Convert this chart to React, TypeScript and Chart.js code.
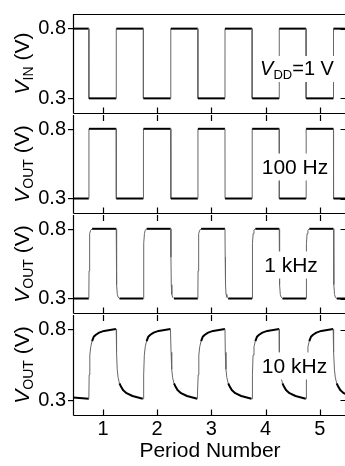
import React, { useEffect, useRef } from "react";
import { Chart, registerables } from "chart.js";

Chart.register(...registerables);

const FONT = "'Liberation Sans', Arial, Helvetica, sans-serif";

// ---- axes ----
const X_MIN = 0.448;
const X_MAX = 5.5;
const PERIOD_TICKS = [1, 2, 3, 4, 5];
const V_TICKS = [0.3, 0.8];
const V_MIN = 0.195;
const V_MAX = 0.905;
const X_TITLE = "Period Number";

// ---- edge times (period units) ----
// input steps down (output steps up)
const IN_FALL_TIMES = [0.74, 1.745, 2.75, 3.75, 4.745];
// input steps up (output steps down)
const IN_RISE_TIMES = [1.245, 2.25, 3.25, 4.25, 5.25];

// ---- V_IN ----
const VIN_START = 0.8;
const VIN_UP_DT = [0, 0.001];
const VIN_UP_V = [0.3, 0.8];
const VIN_DOWN_DT = [0, 0.001];
const VIN_DOWN_V = [0.8, 0.3];

// ---- V_OUT 100 Hz ----
const V100_START = 0.3;
const V100_UP_DT = [0, 0.002];
const V100_UP_V = [0.3, 0.805];
const V100_DOWN_DT = [0, 0.002];
const V100_DOWN_V = [0.805, 0.3];

// ---- V_OUT 1 kHz ----
const V1K_START = 0.3;
const V1K_UP_DT = [0, 0.004, 0.01, 0.02, 0.035, 0.06];
const V1K_UP_V = [0.3, 0.5, 0.7, 0.77, 0.795, 0.805];
const V1K_DOWN_DT = [0, 0.004, 0.01, 0.02, 0.035, 0.06];
const V1K_DOWN_V = [0.805, 0.6, 0.4, 0.33, 0.31, 0.3];

// ---- V_OUT 10 kHz ----
const V10K_START = 0.32;
const V10K_UP_DT = [0, 0.006, 0.018, 0.035, 0.06, 0.09, 0.13, 0.19, 0.28, 0.5];
const V10K_UP_V = [0.31, 0.48, 0.62, 0.68, 0.72, 0.75, 0.765, 0.78, 0.792, 0.805];
const V10K_DOWN_DT = [0, 0.006, 0.018, 0.035, 0.06, 0.09, 0.13, 0.19, 0.3, 0.49];
const V10K_DOWN_V = [0.805, 0.64, 0.52, 0.46, 0.42, 0.395, 0.37, 0.35, 0.33, 0.31];

// ---- labels ----
const Y_LABEL_MAIN = "V";
const Y_LABEL_IN = "IN";
const Y_LABEL_OUT = "OUT";
const Y_LABEL_UNIT = " (V)";
const NOTE_VDD = ["V", "DD", "=1 V"];
const NOTE_100 = "100 Hz";
const NOTE_1K = "1 kHz";
const NOTE_10K = "10 kHz";

type Pt = { x: number; y: number };
type Part = { t: string; size: number; italic?: boolean; dy?: number };

function buildTrace(
  start: number,
  upTimes: number[], upDt: number[], upV: number[],
  downTimes: number[], downDt: number[], downV: number[]
): Pt[] {
  const edges = [
    ...upTimes.map((t) => ({ t, dt: upDt, v: upV })),
    ...downTimes.map((t) => ({ t, dt: downDt, v: downV })),
  ].sort((a, b) => a.t - b.t);
  const pts: Pt[] = [{ x: X_MIN, y: start }];
  for (const e of edges) {
    for (let i = 0; i < e.dt.length; i++) pts.push({ x: e.t + e.dt[i], y: e.v[i] });
  }
  const last = pts[pts.length - 1];
  if (last.x < X_MAX) pts.push({ x: X_MAX, y: last.y });
  return pts;
}

const VIN_DATA = buildTrace(VIN_START, IN_RISE_TIMES, VIN_UP_DT, VIN_UP_V, IN_FALL_TIMES, VIN_DOWN_DT, VIN_DOWN_V);
const V100_DATA = buildTrace(V100_START, IN_FALL_TIMES, V100_UP_DT, V100_UP_V, IN_RISE_TIMES, V100_DOWN_DT, V100_DOWN_V);
const V1K_DATA = buildTrace(V1K_START, IN_FALL_TIMES, V1K_UP_DT, V1K_UP_V, IN_RISE_TIMES, V1K_DOWN_DT, V1K_DOWN_V);
const V10K_DATA = buildTrace(V10K_START, IN_FALL_TIMES, V10K_UP_DT, V10K_UP_V, IN_RISE_TIMES, V10K_DOWN_DT, V10K_DOWN_V);

type PanelCfg = {
  top: number; // page y of chart-area top
  height: number;
  data: Pt[];
  ylabel: Part[];
  note: Part[];
  noteCx: number; // page x
  noteCy: number; // offset from panel top
  drawTop: boolean;
  topTicks: boolean;
  bottom: boolean;
};

const PANELS: PanelCfg[] = [
  {
    top: 13, height: 101, data: VIN_DATA,
    ylabel: [{ t: Y_LABEL_MAIN, size: 21, italic: true }, { t: Y_LABEL_IN, size: 14, dy: 4 }, { t: Y_LABEL_UNIT, size: 21 }],
    note: [{ t: NOTE_VDD[0], size: 20, italic: true }, { t: NOTE_VDD[1], size: 13, dy: 4 }, { t: NOTE_VDD[2], size: 20 }],
    noteCx: 297, noteCy: 54, drawTop: true, topTicks: false, bottom: false,
  },
  {
    top: 114, height: 100, data: V100_DATA,
    ylabel: [{ t: Y_LABEL_MAIN, size: 21, italic: true }, { t: Y_LABEL_OUT, size: 14, dy: 4 }, { t: Y_LABEL_UNIT, size: 21 }],
    note: [{ t: NOTE_100, size: 21 }],
    noteCx: 295, noteCy: 51, drawTop: false, topTicks: true, bottom: false,
  },
  {
    top: 214, height: 100, data: V1K_DATA,
    ylabel: [{ t: Y_LABEL_MAIN, size: 21, italic: true }, { t: Y_LABEL_OUT, size: 14, dy: 4 }, { t: Y_LABEL_UNIT, size: 21 }],
    note: [{ t: NOTE_1K, size: 21 }],
    noteCx: 291, noteCy: 49, drawTop: false, topTicks: true, bottom: false,
  },
  {
    top: 314, height: 101, data: V10K_DATA,
    ylabel: [{ t: Y_LABEL_MAIN, size: 21, italic: true }, { t: Y_LABEL_OUT, size: 14, dy: 4 }, { t: Y_LABEL_UNIT, size: 21 }],
    note: [{ t: NOTE_10K, size: 21 }],
    noteCx: 294.5, noteCy: 50, drawTop: false, topTicks: true, bottom: true,
  },
];

const CANVAS_W = 350;
const PAD = 13;
const X_AXIS_H = 51;
const PAGE_H = 466;

function fontOf(p: Part) {
  return `${p.italic ? "italic " : ""}${p.size}px ${FONT}`;
}

function measureParts(ctx: CanvasRenderingContext2D, parts: Part[]) {
  let w = 0;
  const ws: number[] = [];
  for (const p of parts) {
    ctx.font = fontOf(p);
    const m = ctx.measureText(p.t).width;
    ws.push(m);
    w += m;
  }
  return { w, ws };
}

function drawParts(ctx: CanvasRenderingContext2D, parts: Part[], x0: number, baseline: number) {
  const { ws } = measureParts(ctx, parts);
  let x = x0;
  parts.forEach((p, i) => {
    ctx.font = fontOf(p);
    ctx.fillText(p.t, x, baseline + (p.dy || 0));
    x += ws[i];
  });
}

function Panel({ cfg }: { cfg: PanelCfg }) {
  const ref = useRef<HTMLCanvasElement | null>(null);
  const canvasTop = cfg.top - PAD;
  const canvasH = cfg.bottom ? PAGE_H - canvasTop : PAD + cfg.height + PAD;

  useEffect(() => {
    const canvas = ref.current;
    if (!canvas) return;

    const panelPlugin = {
      id: "panelDeco",
      afterDatasetsDraw(chart: any) {
        const { ctx, chartArea: a } = chart;
        ctx.save();
        const { w } = measureParts(ctx, cfg.note);
        const maxSize = Math.max(...cfg.note.map((p) => p.size));
        const cy = a.top + cfg.noteCy;
        const x0 = cfg.noteCx - w / 2;
        ctx.fillStyle = "#fff";
        ctx.fillRect(x0 - 3, cy - maxSize * 0.5 - 2, w + 6, maxSize + 6);
        ctx.fillStyle = "#000";
        ctx.textBaseline = "alphabetic";
        ctx.textAlign = "left";
        drawParts(ctx, cfg.note, x0, cy + maxSize * 0.358);
        ctx.restore();
      },
      afterDraw(chart: any) {
        const { ctx, chartArea: a } = chart;
        const xs = chart.scales.x;
        const ys = chart.scales.y;
        ctx.save();
        ctx.strokeStyle = "#000";
        ctx.lineWidth = 1.2;
        const L = Math.round(a.left) + 0.5;
        const R = Math.round(a.right) - 0.5;
        const T = Math.round(a.top) + 0.5;
        const B = Math.round(a.bottom) + 0.5;
        ctx.beginPath();
        if (cfg.drawTop) {
          ctx.moveTo(L, T);
          ctx.lineTo(R, T);
        }
        ctx.moveTo(L, B);
        ctx.lineTo(R, B);
        ctx.moveTo(L, a.top);
        ctx.lineTo(L, B);
        ctx.moveTo(R, a.top);
        ctx.lineTo(R, B);
        for (const v of PERIOD_TICKS) {
          const px = Math.round(xs.getPixelForValue(v)) + 0.5;
          ctx.moveTo(px, B);
          ctx.lineTo(px, B - 6);
          if (cfg.topTicks) {
            ctx.moveTo(px, a.top);
            ctx.lineTo(px, a.top + 6);
          }
        }
        for (const v of V_TICKS) {
          const py = Math.round(ys.getPixelForValue(v)) + 0.5;
          ctx.moveTo(R, py);
          ctx.lineTo(R - 6, py);
        }
        ctx.stroke();

        const { w } = measureParts(ctx, cfg.ylabel);
        ctx.translate(28.5, (a.top + a.bottom) / 2);
        ctx.rotate(-Math.PI / 2);
        ctx.fillStyle = "#000";
        ctx.textBaseline = "alphabetic";
        ctx.textAlign = "left";
        drawParts(ctx, cfg.ylabel, -w / 2, 0);
        ctx.restore();
      },
    };

    const steep = (c: any) => Math.abs(c.p1.x - c.p0.x) < 1.5;

    const chart = new Chart(canvas, {
      type: "line",
      data: {
        datasets: [
          {
            data: cfg.data as any,
            borderColor: "#000",
            borderWidth: 2,
            pointRadius: 0,
            tension: 0,
            fill: false,
            borderJoinStyle: "round",
            segment: {
              borderColor: (c: any) => (steep(c) ? "#666" : "#000"),
              borderWidth: (c: any) => (steep(c) ? 1 : 2),
            },
          } as any,
        ],
      },
      options: {
        responsive: false,
        maintainAspectRatio: false,
        animation: false,
        devicePixelRatio: 1,
        events: [],
        layout: { padding: { left: 0, right: 3, top: PAD, bottom: cfg.bottom ? 0 : PAD } },
        plugins: { legend: { display: false }, tooltip: { enabled: false } },
        scales: {
          x: {
            type: "linear",
            min: X_MIN,
            max: X_MAX,
            display: cfg.bottom,
            afterBuildTicks: (s: any) => {
              s.ticks = PERIOD_TICKS.map((v) => ({ value: v }));
            },
            afterFit: (s: any) => {
              s.height = cfg.bottom ? X_AXIS_H : 0;
            },
            grid: { display: false, drawTicks: false },
            border: { display: false },
            ticks: {
              color: "#000",
              font: { family: FONT, size: 20 },
              padding: 2,
              maxRotation: 0,
              autoSkip: false,
              callback: (v: any) => String(v),
            },
            title: {
              display: true,
              text: X_TITLE,
              color: "#000",
              font: { family: FONT, size: 21 },
              padding: { top: 0, bottom: 2 },
            },
          },
          y: {
            type: "linear",
            min: V_MIN,
            max: V_MAX,
            afterBuildTicks: (s: any) => {
              s.ticks = V_TICKS.map((v) => ({ value: v }));
            },
            afterFit: (s: any) => {
              s.width = 73;
            },
            grid: { drawOnChartArea: false, drawTicks: true, tickLength: 5, color: "#000", lineWidth: 1.2 },
            border: { display: false },
            ticks: {
              color: "#000",
              font: { family: FONT, size: 20 },
              padding: 2,
              callback: (v: any) => Number(v).toFixed(1),
            },
          },
        },
      } as any,
      plugins: [panelPlugin],
    });
    return () => chart.destroy();
  }, [cfg]);

  return (
    <canvas
      ref={ref}
      width={CANVAS_W}
      height={canvasH}
      style={{ position: "absolute", left: 0, top: canvasTop, width: CANVAS_W, height: canvasH }}
    />
  );
}

export default function App() {
  return (
    <div
      style={{
        position: "absolute",
        left: 0,
        top: 0,
        width: 345,
        height: PAGE_H,
        overflow: "hidden",
        background: "#fff",
      }}
    >
      {PANELS.map((p, i) => (
        <Panel key={i} cfg={p} />
      ))}
    </div>
  );
}
